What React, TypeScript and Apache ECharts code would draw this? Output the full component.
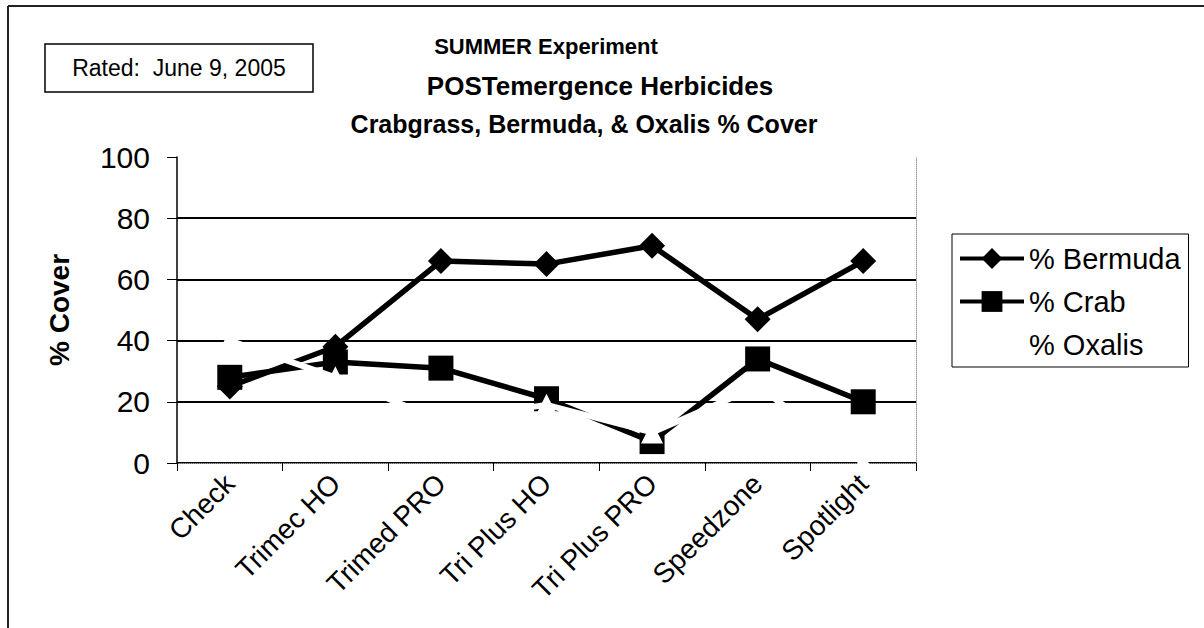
import React, { useEffect, useRef } from "react";
import * as echarts from "echarts";

const categories = ["Check", "Trimec HO", "Trimed PRO", "Tri Plus HO", "Tri Plus PRO", "Speedzone", "Spotlight"];
const bermuda = [25, 38, 66, 65, 71, 47, 66];
const crab = [28, 33, 31, 21, 7, 34, 20];
const oxalis = [40, 28, 14, 19, 10, 25, 0];
const seriesNames = ["% Bermuda", "% Crab", "% Oxalis"];
const yTicks = [0, 20, 40, 60, 80, 100];
const titleLines = ["SUMMER Experiment", "POSTemergence Herbicides", "Crabgrass, Bermuda, & Oxalis % Cover"];
const ratedText = "Rated:  June 9, 2005";
const yName = "% Cover";

const FONT = "'Liberation Sans', Arial, sans-serif";

export default function App() {
  const ref = useRef<HTMLDivElement>(null);
  useEffect(() => {
    if (!ref.current) return;
    const chart = echarts.init(ref.current, null, { renderer: "svg" });
    const yMin = yTicks[0];
    const yMax = yTicks[yTicks.length - 1];
    const yInterval = yTicks[1] - yTicks[0];
    const option: any = {
      animation: false,
      backgroundColor: "#fff",
      textStyle: { fontFamily: FONT, color: "#000" },
      grid: { left: 177, top: 157, width: 739, height: 306, containLabel: false },
      legend: {
        orient: "vertical",
        left: 952,
        top: 234,
        itemWidth: 64,
        itemHeight: 26,
        itemGap: 14,
        padding: [10, 8, 8, 6],
        borderColor: "#000",
        borderWidth: 1,
        lineStyle: { width: 4 },
        textStyle: { fontSize: 29, color: "#000", fontFamily: FONT },
        data: seriesNames,
      },
      xAxis: [
        {
          type: "category",
          data: categories,
          boundaryGap: true,
          axisLine: { show: true, lineStyle: { color: "#000", width: 1.5 } },
          axisTick: { show: true, length: 8, lineStyle: { color: "#000" } },
          axisLabel: { rotate: 45, fontSize: 28, color: "#000", margin: 16, interval: 0, fontFamily: FONT },
          splitLine: { show: false },
        },
        {
          type: "category",
          data: categories,
          position: "top",
          axisLine: { show: true, lineStyle: { color: "#999", width: 1, type: "dotted" } },
          axisTick: { show: false },
          axisLabel: { show: false },
          splitLine: { show: false },
        },
      ],
      yAxis: [
        {
          type: "value",
          min: yMin,
          max: yMax,
          interval: yInterval,
          name: yName,
          nameLocation: "middle",
          nameRotate: 90,
          nameGap: 104,
          nameTextStyle: { fontSize: 28, fontWeight: "bold", color: "#000", fontFamily: FONT },
          axisLine: { show: true, lineStyle: { color: "#000", width: 1.5 } },
          axisTick: { show: true, length: 10, lineStyle: { color: "#000" } },
          axisLabel: { fontSize: 30, color: "#000", margin: 27, fontFamily: FONT },
          splitLine: {
            show: true,
            lineStyle: { color: ["#000", "#000", "#000", "#000", "#000", "transparent"], width: 1.8 },
          },
        },
        {
          type: "value",
          min: yMin,
          max: yMax,
          interval: yInterval,
          position: "right",
          axisLine: { show: true, lineStyle: { color: "#999", width: 1, type: "dotted" } },
          axisTick: { show: false },
          axisLabel: { show: false },
          splitLine: { show: false },
        },
      ],
      series: [
        {
          name: seriesNames[0],
          type: "line",
          data: bermuda,
          symbol: "diamond",
          symbolSize: 26,
          itemStyle: { color: "#000" },
          lineStyle: { color: "#000", width: 5.5 },
          z: 2,
        },
        {
          name: seriesNames[1],
          type: "line",
          data: crab,
          symbol: "rect",
          symbolSize: 25,
          itemStyle: { color: "#000" },
          lineStyle: { color: "#000", width: 5.5 },
          z: 3,
        },
        {
          name: seriesNames[2],
          type: "line",
          data: oxalis,
          symbol: "triangle",
          symbolSize: 22,
          itemStyle: { color: "#fff" },
          lineStyle: { color: "#fff", width: 6 },
          z: 4,
          clip: false,
        },
      ],
      graphic: [
        { type: "line", shape: { x1: 8, y1: 6, x2: 1204, y2: 6 }, style: { stroke: "#222", lineWidth: 2 } },
        { type: "line", shape: { x1: 8, y1: 6, x2: 8, y2: 628 }, style: { stroke: "#222", lineWidth: 2 } },
        { type: "rect", shape: { x: 45, y: 44, width: 268, height: 48 }, style: { stroke: "#000", lineWidth: 1.5, fill: "#fff" } },
        {
          type: "text",
          x: 179,
          y: 68,
          style: { text: ratedText, fontSize: 23, fontFamily: FONT, fill: "#000", textAlign: "center", textVerticalAlign: "middle" },
        },
        {
          type: "text",
          x: 546,
          y: 46,
          style: { text: titleLines[0], fontSize: 22, fontWeight: "bold", fontFamily: FONT, fill: "#000", textAlign: "center", textVerticalAlign: "middle" },
        },
        {
          type: "text",
          x: 600,
          y: 86,
          style: { text: titleLines[1], fontSize: 26, fontWeight: "bold", fontFamily: FONT, fill: "#000", textAlign: "center", textVerticalAlign: "middle" },
        },
        {
          type: "text",
          x: 584,
          y: 124,
          style: { text: titleLines[2], fontSize: 25, fontWeight: "bold", fontFamily: FONT, fill: "#000", textAlign: "center", textVerticalAlign: "middle" },
        },
      ],
    };
    chart.setOption(option);
    return () => chart.dispose();
  }, []);
  return <div ref={ref} style={{ position: "fixed", left: 0, top: 0, width: 1204, height: 628 }} />;
}
